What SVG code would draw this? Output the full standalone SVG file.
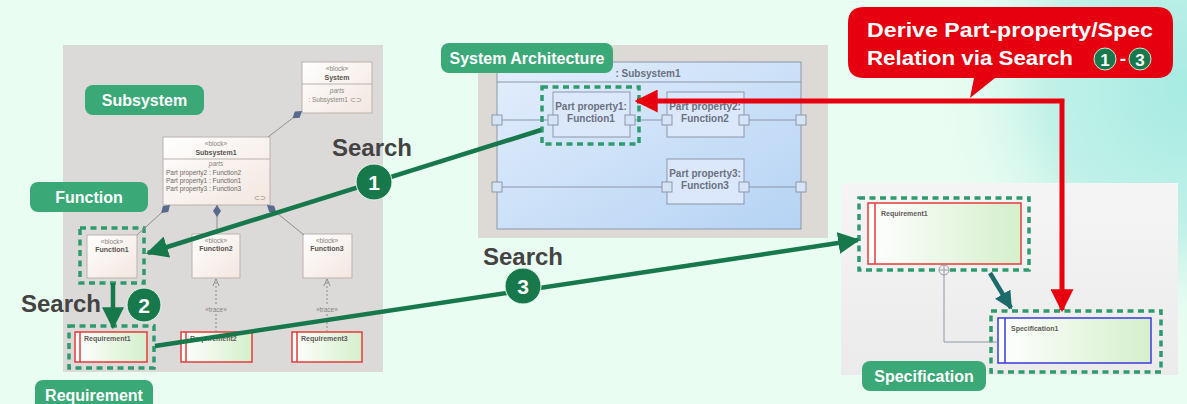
<svg xmlns="http://www.w3.org/2000/svg" width="1187" height="404" viewBox="0 0 1187 404">
<defs>
<radialGradient id="bgc" cx="1187" cy="90" r="260" gradientUnits="userSpaceOnUse">
<stop offset="0" stop-color="#a6ebe3"/><stop offset="0.55" stop-color="#c2f1e8"/><stop offset="1" stop-color="#eafdf2" stop-opacity="0"/>
</radialGradient>
<linearGradient id="blk" x1="0" y1="0" x2="1" y2="1"><stop offset="0" stop-color="#ffffff"/><stop offset="1" stop-color="#f3e6df"/></linearGradient>
<linearGradient id="req" x1="0" y1="0" x2="1" y2="0"><stop offset="0" stop-color="#ffffff"/><stop offset="1" stop-color="#d5efcb"/></linearGradient>
<linearGradient id="blu" x1="0" y1="0" x2="1" y2="1"><stop offset="0" stop-color="#e3eefc"/><stop offset="1" stop-color="#b5d3f4"/></linearGradient>
<linearGradient id="rp" x1="0" y1="0" x2="0" y2="1"><stop offset="0" stop-color="#f6f5f5"/><stop offset="1" stop-color="#ecebeb"/></linearGradient>
<marker id="ga" viewBox="0 0 10 10" refX="9" refY="5" markerWidth="22" markerHeight="22" markerUnits="userSpaceOnUse" orient="auto"><path d="M0,0 L10,5 L0,10 Z" fill="#17784c"/></marker>
<marker id="ta" viewBox="0 0 10 10" refX="9" refY="5" markerWidth="18" markerHeight="18" markerUnits="userSpaceOnUse" orient="auto"><path d="M0,0 L10,5 L0,10 Z" fill="#1c6a6a"/></marker>
<marker id="ra" viewBox="0 0 10 10" refX="9" refY="5" markerWidth="23" markerHeight="23" markerUnits="userSpaceOnUse" orient="auto-start-reverse"><path d="M0,0 L10,5 L0,10 Z" fill="#e8000e"/></marker>
<marker id="tr" viewBox="0 0 10 10" refX="9" refY="5" markerWidth="8" markerHeight="8" markerUnits="userSpaceOnUse" orient="auto"><path d="M0,1 L9,5 L0,9" fill="none" stroke="#8a8a8a" stroke-width="1.2"/></marker>
<marker id="dm" viewBox="0 0 12 8" refX="0" refY="4" markerWidth="12" markerHeight="8" markerUnits="userSpaceOnUse" orient="auto"><path d="M0,4 L6,0 L12,4 L6,8 Z" fill="#5a6a8c"/></marker>
</defs>
<style>
.lbl{fill:#3aa877}
.lt{font-family:"Liberation Sans",Arial,sans-serif;font-weight:bold;font-size:16px;fill:#ffffff;text-anchor:middle}
.blk{fill:url(#blk);stroke:#b9b2ad;stroke-width:1}
.req{fill:url(#req);stroke:#e53b3b;stroke-width:1.5}
.rb{stroke:#e53b3b;stroke-width:1.5}
.st{font-family:"Liberation Sans",Arial,sans-serif;font-size:6.5px;fill:#8a8380;text-anchor:middle}
.sb{font-family:"Liberation Sans",Arial,sans-serif;font-size:7px;font-weight:bold;fill:#5a5350;text-anchor:middle}
.sl{font-family:"Liberation Sans",Arial,sans-serif;font-size:6.5px;fill:#6e6764}
.rt{font-family:"Liberation Sans",Arial,sans-serif;font-size:7px;font-weight:bold;fill:#5f5a58}
.dash{fill:none;stroke:#2f9a6e;stroke-width:3.5;stroke-dasharray:6 4.5}
.pp{fill:#dbe8fb;stroke:#8e96a8;stroke-width:1}
.port{fill:#d6e4f8;stroke:#8e96a8;stroke-width:1}
.pt{font-family:"Liberation Sans",Arial,sans-serif;font-size:10px;font-weight:bold;fill:#6c7080;text-anchor:middle}
.wire{stroke:#8e96a8;stroke-width:1;fill:none}
.srch{font-family:"Liberation Sans",Arial,sans-serif;font-size:24px;font-weight:bold;fill:#434343;text-anchor:middle}
.num{fill:#17784c;stroke:#e8f7ee;stroke-width:1}
.nt{font-family:"Liberation Sans",Arial,sans-serif;font-size:21px;font-weight:bold;fill:#ffffff;text-anchor:middle}
.comp{stroke:#8f8f94;stroke-width:1;fill:none}
</style>
<rect width="1187" height="404" fill="#eafdf2"/>
<rect width="1187" height="404" fill="url(#bgc)"/>
<!-- panels -->
<rect x="63" y="45" width="320" height="327" fill="#dcdad8"/>
<rect x="478" y="45" width="350" height="193" fill="#dddad6"/>
<rect x="841" y="183" width="337" height="192" fill="url(#rp)"/>

<!-- left panel nodes -->
<g id="system">
<rect class="blk" x="302" y="62" width="70" height="51"/>
<line x1="302" y1="84" x2="372" y2="84" stroke="#b9b2ad"/>
<text class="st" x="337" y="71">«block»</text>
<text class="sb" x="337" y="80">System</text>
<text class="st" x="337" y="93" font-style="italic">parts</text>
<text class="st" x="335" y="102">: Subsystem1 ⊂⊃</text>
</g>
<g id="subsystem1">
<rect class="blk" x="163" y="137" width="107" height="68"/>
<line x1="163" y1="159" x2="270" y2="159" stroke="#b9b2ad"/>
<text class="st" x="216" y="146">«block»</text>
<text class="sb" x="216" y="155">Subsystem1</text>
<text class="st" x="216" y="166" font-style="italic">parts</text>
<text class="sl" x="166" y="175">Part property2 : Function2</text>
<text class="sl" x="166" y="183">Part property1 : Function1</text>
<text class="sl" x="166" y="191">Part property3 : Function3</text>
<text class="st" x="260" y="200">⊂⊃</text>
</g>
<g id="function1">
<rect class="blk" x="87" y="235" width="50" height="43"/>
<text class="st" x="112" y="244">«block»</text>
<text class="sb" x="112" y="252">Function1</text>
<rect class="dash" x="80" y="228" width="64" height="55"/>
</g>
<g id="function2">
<rect class="blk" x="192" y="234" width="48" height="44"/>
<text class="st" x="216" y="243">«block»</text>
<text class="sb" x="216" y="251">Function2</text>
</g>
<g id="function3">
<rect class="blk" x="303" y="234" width="49" height="44"/>
<text class="st" x="327" y="243">«block»</text>
<text class="sb" x="327" y="251">Function3</text>
</g>
<g id="requirement1">
<rect class="req" x="75" y="332" width="72" height="30"/>
<line class="rb" x1="80" y1="332" x2="80" y2="362"/>
<text class="rt" x="84" y="341">Requirement1</text>
<rect class="dash" x="69" y="326" width="85" height="42"/>
</g>
<g id="requirement2">
<rect class="req" x="181" y="332" width="71" height="30"/>
<line class="rb" x1="186" y1="332" x2="186" y2="362"/>
<text class="rt" x="190" y="341">Requirement2</text>
</g>
<g id="requirement3">
<rect class="req" x="292" y="332" width="70" height="30"/>
<line class="rb" x1="297" y1="332" x2="297" y2="362"/>
<text class="rt" x="301" y="341">Requirement3</text>
</g>

<!-- centre: system architecture -->
<g id="subsystem1-ibd">
<rect x="497" y="62" width="304" height="167" fill="url(#blu)" stroke="#8e96a8" stroke-width="1"/>
<line x1="497" y1="82" x2="801" y2="82" stroke="#8e96a8"/>
<text class="pt" x="648" y="77" font-size="10.5">: Subsystem1</text>
<path class="wire" d="M497,120 H553 M630,120 H667 M744,120 H801 M497,187 H667 M744,187 H801"/>
</g>
<g id="partproperty1">
<rect class="pp" x="553" y="92" width="77" height="45"/>
<text class="pt" x="591" y="110">Part property1:</text>
<text class="pt" x="591" y="122">Function1</text>
<rect class="dash" x="542" y="87" width="97" height="57"/>
</g>
<g id="partproperty2">
<rect class="pp" x="667" y="92" width="77" height="45"/>
<text class="pt" x="705" y="110">Part property2:</text>
<text class="pt" x="705" y="122">Function2</text>
</g>
<g id="partproperty3">
<rect class="pp" x="667" y="159" width="77" height="45"/>
<text class="pt" x="705" y="177">Part property3:</text>
<text class="pt" x="705" y="189">Function3</text>
</g>
<g id="ports">
<rect class="port" x="492" y="115" width="10" height="10"/>
<rect class="port" x="796" y="115" width="10" height="10"/>
<rect class="port" x="492" y="182" width="10" height="10"/>
<rect class="port" x="796" y="182" width="10" height="10"/>
<rect class="port" x="548" y="115" width="10" height="10"/>
<rect class="port" x="625" y="115" width="10" height="10"/>
<rect class="port" x="662" y="115" width="10" height="10"/>
<rect class="port" x="739" y="115" width="10" height="10"/>
<rect class="port" x="662" y="182" width="10" height="10"/>
<rect class="port" x="739" y="182" width="10" height="10"/>
</g>

<!-- right panel -->
<g id="requirement1-spec">
<rect class="req" x="868" y="203" width="153" height="61"/>
<line class="rb" x1="875" y1="203" x2="875" y2="264"/>
<text class="rt" x="881" y="216" font-size="7.5">Requirement1</text>
<rect class="dash" x="859" y="198" width="170" height="72"/>
</g>
<g id="specification1">
<rect x="998" y="318" width="153" height="45" fill="url(#req)" stroke="#3a3ae0" stroke-width="1.5"/>
<line x1="1005" y1="318" x2="1005" y2="363" stroke="#3a3ae0" stroke-width="1.5"/>
<text class="rt" x="1011" y="331" font-size="7.5">Specification1</text>
<rect class="dash" x="991" y="311" width="170" height="61"/>
</g>

<g id="connectors">
<!-- composition lines -->
<line class="comp" x1="302" y1="111" x2="268" y2="137" marker-start="url(#dm)"/>
<line class="comp" x1="170" y1="205" x2="137" y2="235" marker-start="url(#dm)"/>
<line class="comp" x1="217" y1="205" x2="217" y2="234" marker-start="url(#dm)"/>
<line class="comp" x1="267" y1="205" x2="304" y2="235" marker-start="url(#dm)"/>
<!-- traces -->
<line x1="216" y1="332" x2="216" y2="279" stroke="#8a8a8a" stroke-width="1" stroke-dasharray="2 2" marker-end="url(#tr)"/>
<line x1="327" y1="332" x2="327" y2="279" stroke="#8a8a8a" stroke-width="1" stroke-dasharray="2 2" marker-end="url(#tr)"/>
<rect x="200" y="306" width="32" height="8" fill="#dcdad8"/>
<text class="st" x="216" y="312">«trace»</text>
<rect x="311" y="306" width="32" height="8" fill="#dcdad8"/>
<text class="st" x="327" y="312">«trace»</text>
<!-- right containment -->
<path class="wire" d="M944,275 V342 H998" stroke="#9a9aa4"/>
<circle cx="944" cy="270" r="5" fill="#f2f1f1" stroke="#9a9aa4" stroke-width="1"/>
<path d="M944,265 V275 M939,270 H949" stroke="#9a9aa4" stroke-width="1"/>
<line x1="990" y1="273" x2="1011" y2="308" stroke="#1c6a6a" stroke-width="4.5" marker-end="url(#ta)"/>
<!-- green search arrows -->
<line x1="541" y1="130" x2="148" y2="253" stroke="#17784c" stroke-width="4.5" marker-end="url(#ga)"/>
<line x1="113" y1="283" x2="113" y2="327" stroke="#17784c" stroke-width="4.5" marker-end="url(#ga)"/>
<line x1="155" y1="346" x2="858" y2="240" stroke="#17784c" stroke-width="4.5" marker-end="url(#ga)"/>
<!-- red arrow -->
<path d="M637,101 H1062 V310" fill="none" stroke="#e8000e" stroke-width="5" marker-start="url(#ra)" marker-end="url(#ra)"/>
</g>

<!-- labels -->
<g id="label-subsystem"><rect class="lbl" x="85" y="85" width="119" height="30" rx="8"/><text class="lt" x="144.5" y="106">Subsystem</text></g>
<g id="label-function"><rect class="lbl" x="30" y="182" width="118" height="30" rx="8"/><text class="lt" x="89" y="203">Function</text></g>
<g id="label-requirement"><rect class="lbl" x="35" y="380" width="118" height="34" rx="8"/><text class="lt" x="94" y="401">Requirement</text></g>
<g id="label-sysarch"><rect class="lbl" x="441" y="43" width="172" height="30" rx="8"/><text class="lt" x="527" y="64">System Architecture</text></g>
<g id="label-spec"><rect class="lbl" x="862" y="361" width="124" height="30" rx="8"/><text class="lt" x="924" y="382">Specification</text></g>

<!-- search markers -->
<g id="search1">
<text class="srch" x="372" y="156">Search</text>
<circle class="num" cx="374" cy="182" r="18"/><text class="nt" x="374" y="190">1</text>
</g>
<g id="search2">
<text class="srch" x="61" y="312">Search</text>
<circle class="num" cx="144" cy="305" r="17"/><text class="nt" x="144" y="313">2</text>
</g>
<g id="search3">
<text class="srch" x="523" y="265">Search</text>
<circle class="num" cx="523" cy="286" r="18"/><text class="nt" x="523" y="294">3</text>
</g>

<!-- callout -->
<g id="callout">
<path d="M864,7 H1157 Q1173,7 1173,23 V62 Q1173,78 1157,78 H995 L970,98 L974,78 H864 Q848,78 848,62 V23 Q848,7 864,7 Z" fill="#e6000f"/>
<text x="1010" y="37" font-family="Liberation Sans, Arial, sans-serif" font-size="21" font-weight="bold" fill="#ffffff" text-anchor="middle" textLength="286" lengthAdjust="spacingAndGlyphs">Derive Part-property/Spec</text>
<text x="867" y="65" font-family="Liberation Sans, Arial, sans-serif" font-size="21" font-weight="bold" fill="#ffffff" textLength="206" lengthAdjust="spacingAndGlyphs">Relation via Search</text>
<circle cx="1105" cy="59" r="11" fill="#17784c" stroke="#c8ead6" stroke-width="1"/>
<text x="1105" y="66" font-family="Liberation Sans, Arial, sans-serif" font-size="17" font-weight="bold" fill="#ffffff" text-anchor="middle">1</text>
<text x="1123" y="65" font-family="Liberation Sans, Arial, sans-serif" font-size="19" font-weight="bold" fill="#ffffff" text-anchor="middle">-</text>
<circle cx="1140" cy="59" r="11" fill="#17784c" stroke="#c8ead6" stroke-width="1"/>
<text x="1140" y="66" font-family="Liberation Sans, Arial, sans-serif" font-size="17" font-weight="bold" fill="#ffffff" text-anchor="middle">3</text>
</g>
</svg>
